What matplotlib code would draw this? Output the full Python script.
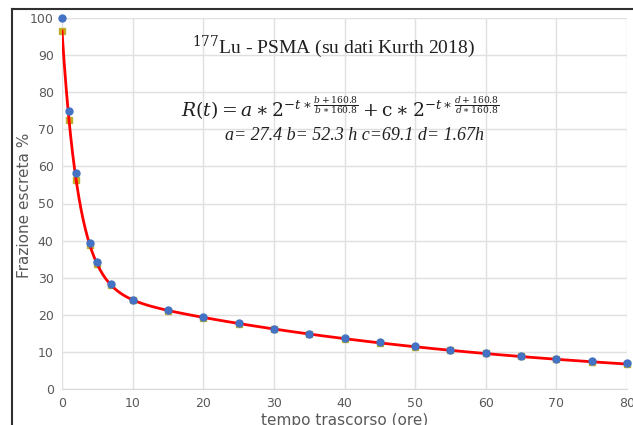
import numpy as np
import matplotlib
matplotlib.use("Agg")
import matplotlib.pyplot as plt
from matplotlib.lines import Line2D

t_ore = [0, 1, 2, 4, 5, 7, 10, 15, 20, 25, 30, 35, 40, 45, 50, 55, 60, 65, 70, 75, 80]
misurati = [100, 75.0, 58.3, 39.4, 34.3, 28.2, 24.1, 21.2, 19.4, 17.8, 16.3, 14.9,
            13.8, 12.6, 11.5, 10.6, 9.7, 8.9, 8.2, 7.5, 7.0]
fit_punti = [96.5, 72.4, 56.4, 38.7, 33.7, 27.9, 23.9, 21.0, 19.2, 17.6, 16.1, 14.8,
             13.6, 12.5, 11.4, 10.5, 9.6, 8.8, 8.1, 7.4, 6.7]

# fit parameters shown on the chart
a, b, c, d = 27.4, 52.3, 69.1, 1.67
T_fis = 160.8

x_ticks = [0, 10, 20, 30, 40, 50, 60, 70, 80]
y_ticks = [0, 10, 20, 30, 40, 50, 60, 70, 80, 90, 100]

W, H = 633, 425
fig = plt.figure(figsize=(W / 100, H / 100), dpi=100)
ax = fig.add_axes([62 / W, 1 - 389 / H, (627 - 62) / W, (389 - 18) / H])

# fitted curve from the displayed model
t = np.linspace(0, 80, 800)
R = a * 2 ** (-t * (b + T_fis) / (b * T_fis)) + c * 2 ** (-t * (d + T_fis) / (d * T_fis))
ax.plot(t_ore, fit_punti, "s", color="#D9A514", mec="#B8B030", ms=5, zorder=3, clip_on=False)
ax.plot(t, R, color="#FF0000", lw=2, zorder=4)
ax.plot(t_ore, misurati, "o", color="#4472C4", ms=5, zorder=5, clip_on=False)

ax.set_xlim(0, 80)
ax.set_ylim(0, 100)
ax.set_xticks(x_ticks)
ax.set_yticks(y_ticks)
ax.grid(True, color="#E0E0E0", lw=1)
ax.set_axisbelow(True)
for s in ["top", "right", "left"]:
    ax.spines[s].set_visible(False)
ax.spines["bottom"].set_color("#D9D9D9")
ax.tick_params(length=0, labelsize=9, colors="#595959", pad=6)

fig.text(25 / W, 1 - 205 / H, "Frazione escreta %", rotation=90, ha="center", va="center",
         fontsize=11, color="#595959")
fig.text(345 / W, 1 - 428 / H, "tempo trascorso (ore)", ha="center", va="bottom",
         fontsize=11, color="#595959")

plt.rcParams["mathtext.fontset"] = "dejavuserif"
fig.text(333 / W, 1 - 47 / H, r"$^{177}$Lu - PSMA (su dati Kurth 2018)", ha="center", va="center",
         fontsize=14, family="Liberation Serif", color="#202020")
fig.text(181 / W, 1 - 108 / H,
         r"$R(t)=a\ast2^{-t\ast\frac{b+160.8}{b\ast160.8}}+\mathrm{c}\ast2^{-t\ast\frac{d+160.8}{d\ast160.8}}$",
         ha="left", va="center", fontsize=13.5, color="#202020")
fig.text(225 / W, 1 - 136 / H, "a= 27.4 b= 52.3 h c=69.1 d= 1.67h", ha="left", va="center",
         fontsize=13, family="Liberation Serif", style="italic", color="#202020")

# frame of the cropped chart
fig.add_artist(Line2D([12 / W, 1], [1 - 9 / H, 1 - 9 / H], color="#303030", lw=1.5))
fig.add_artist(Line2D([12 / W, 12 / W], [0, 1 - 9 / H], color="#303030", lw=1.5))

fig.savefig("out.png", dpi=100)
